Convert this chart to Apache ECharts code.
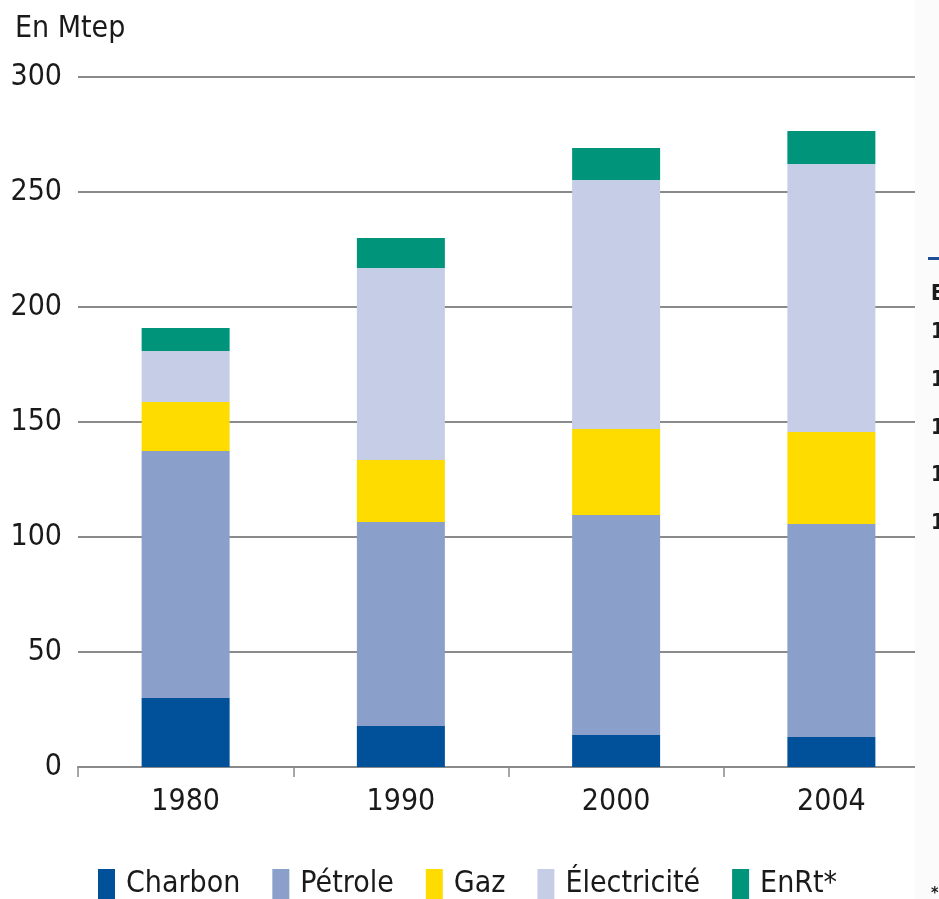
<!DOCTYPE html>
<html>
<head>
<meta charset="utf-8">
<script src="https://cdn.jsdelivr.net/npm/echarts@6/dist/echarts.min.js"></script>
<style>
  html, body { margin: 0; padding: 0; background: #fff; }
  #chart { width: 939px; height: 899px; }
</style>
</head>
<body>
<div id="chart"></div>
<script>
// années
const years = ['1980', '1990', '2000', '2004'];
// consommation par énergie, en Mtep
const charbon = [30, 17.8, 13.9, 13];
const petrole = [107.4, 88.7, 95.7, 92.7];
const gaz = [21.3, 27, 37.4, 40];
const electricite = [22.2, 83.5, 108.2, 116.5];
const enrt = [10, 13, 13.9, 14.3];
// bout du tableau voisin, coupé à droite
const sideLabels = ['E', '1', '1', '1', '1', '1'];

const font = '"DejaVu Sans Condensed", "Liberation Sans Narrow", sans-serif';

const chart = echarts.init(document.getElementById('chart'), null, { renderer: 'canvas' });

function serie(name, data, color) {
  return {
    name: name,
    type: 'bar',
    stack: 'total',
    barWidth: 88,
    data: data,
    itemStyle: { color: color },
    emphasis: { disabled: true }
  };
}

const sideTexts = sideLabels.map((t, i) => ({
  type: 'text',
  z: 101,
  left: 931,
  top: i === 0 ? 284 : 322 + (i - 1) * 47.8,
  style: { text: t, font: 'bold 21px ' + font, fill: '#1a1a1a' }
}));

chart.setOption({
  animation: false,
  textStyle: { fontFamily: font },
  grid: { left: 78, top: 77, width: 864, height: 690 },
  legend: {
    left: 93,
    top: 864,
    itemWidth: 17,
    itemHeight: 31,
    itemGap: 32,
    icon: 'rect',
    textStyle: { fontSize: 30, color: '#1a1a1a', fontFamily: font, padding: [0, 0, 0, 6] },
    data: ['Charbon', 'Pétrole', 'Gaz', 'Électricité', 'EnRt*']
  },
  xAxis: {
    type: 'category',
    data: years,
    axisLine: { lineStyle: { color: '#8a8a8a', width: 2 } },
    axisTick: { show: true, length: 10, lineStyle: { color: '#8a8a8a', width: 1.5 } },
    axisLabel: { fontSize: 30, color: '#1a1a1a', margin: 20, fontFamily: font }
  },
  yAxis: {
    type: 'value',
    min: 0,
    max: 300,
    interval: 50,
    axisLine: { show: false },
    axisTick: { show: false },
    axisLabel: { fontSize: 30, color: '#1a1a1a', margin: 16, fontFamily: font },
    splitLine: { lineStyle: { color: '#8a8a8a', width: 2 } }
  },
  series: [
    serie('Charbon', charbon, '#00509a'),
    serie('Pétrole', petrole, '#8b9fcb'),
    serie('Gaz', gaz, '#ffdc00'),
    serie('Électricité', electricite, '#c6cde6'),
    serie('EnRt*', enrt, '#00947b')
  ],
  graphic: [
    {
      type: 'text',
      left: 15,
      top: 14,
      style: { text: 'En Mtep', font: '30px ' + font, fill: '#1a1a1a' }
    },
    {
      type: 'rect',
      z: 100,
      shape: { x: 915, y: 0, width: 30, height: 899 },
      style: { fill: '#fbfbfb' }
    },
    {
      type: 'rect',
      z: 101,
      shape: { x: 928, y: 257, width: 12, height: 3 },
      style: { fill: '#1f4e96' }
    },
    {
      type: 'text',
      z: 101,
      left: 931,
      top: 886,
      style: { text: '*', font: 'bold 16px ' + font, fill: '#1a1a1a' }
    }
  ].concat(sideTexts)
});

window.onresize = function () {
  chart.resize();
};
</script>
</body>
</html>
